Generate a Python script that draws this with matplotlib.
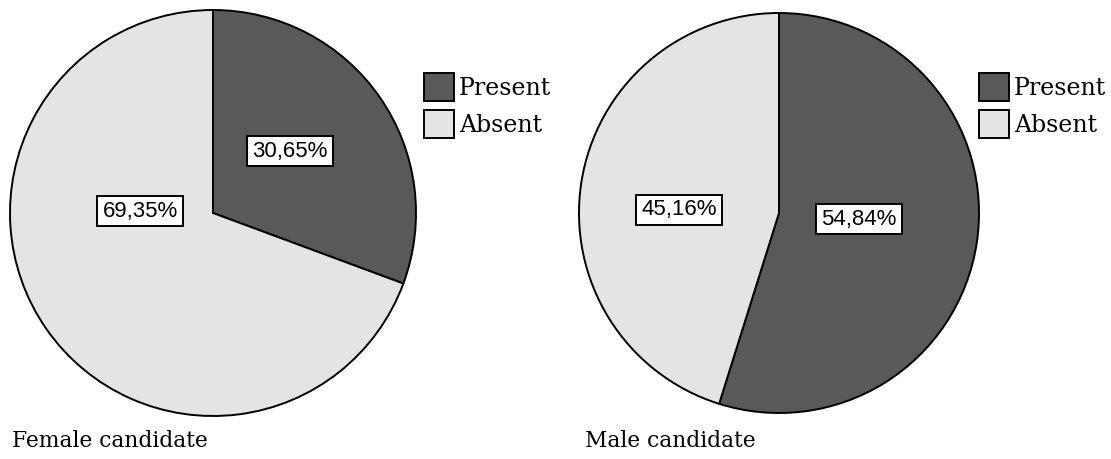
import matplotlib
matplotlib.use("Agg")
import matplotlib.pyplot as plt

# Share of candidates for whom the attribute was present / absent
categories = ["Present", "Absent"]
female_values = [30.65, 69.35]
male_values = [54.84, 45.16]
panel_titles = ["Female candidate", "Male candidate"]

colors = ["#595959", "#e4e4e4"]

W, H = 1111, 459
fig = plt.figure(figsize=(W / 100, H / 100), dpi=100)
ax = fig.add_axes([0, 0, 1, 1])

# panel layout in pixel units (x from left, y from top)
panels = [
    dict(values=female_values, title=panel_titles[0], center=(213, 213), radius=203,
         label_pos=[(290, 151), (140, 211)], legend_at=(424, 73), title_at=(12, 441)),
    dict(values=male_values, title=panel_titles[1], center=(779, 213), radius=200,
         label_pos=[(859, 219), (679, 210)], legend_at=(979, 73), title_at=(585, 441)),
]

legends = []
for p in panels:
    cx, cy = p["center"]
    wedges, _ = ax.pie(
        p["values"], colors=colors, startangle=90, counterclock=False,
        center=(cx, H - cy), radius=p["radius"],
        wedgeprops=dict(edgecolor="black", linewidth=1.4),
    )
    for val, (lx, ly) in zip(p["values"], p["label_pos"]):
        ax.text(lx, H - ly, f"{val:.2f}%".replace(".", ","),
                ha="center", va="center", fontsize=16, family="Liberation Sans",
                bbox=dict(boxstyle="square,pad=0.22", facecolor="white",
                          edgecolor="black", linewidth=1.4))
    ax.text(p["title_at"][0], H - p["title_at"][1], p["title"],
            ha="left", va="center", fontsize=15.7, family="DejaVu Serif")
    lx, ly = p["legend_at"]
    leg = ax.legend(wedges, categories, loc="upper left",
                    bbox_to_anchor=(lx / W, 1 - ly / H), bbox_transform=fig.transFigure,
                    frameon=False, borderpad=0, borderaxespad=0,
                    handlelength=1.27, handleheight=1.45, handletextpad=0.2,
                    labelspacing=0.385, prop=dict(family="DejaVu Serif", size=17))
    legends.append(leg)

for leg in legends[:-1]:
    ax.add_artist(leg)

ax.set_xlim(0, W)
ax.set_ylim(0, H)
ax.set_aspect("equal")
ax.axis("off")

fig.savefig("out.png", dpi=100)
